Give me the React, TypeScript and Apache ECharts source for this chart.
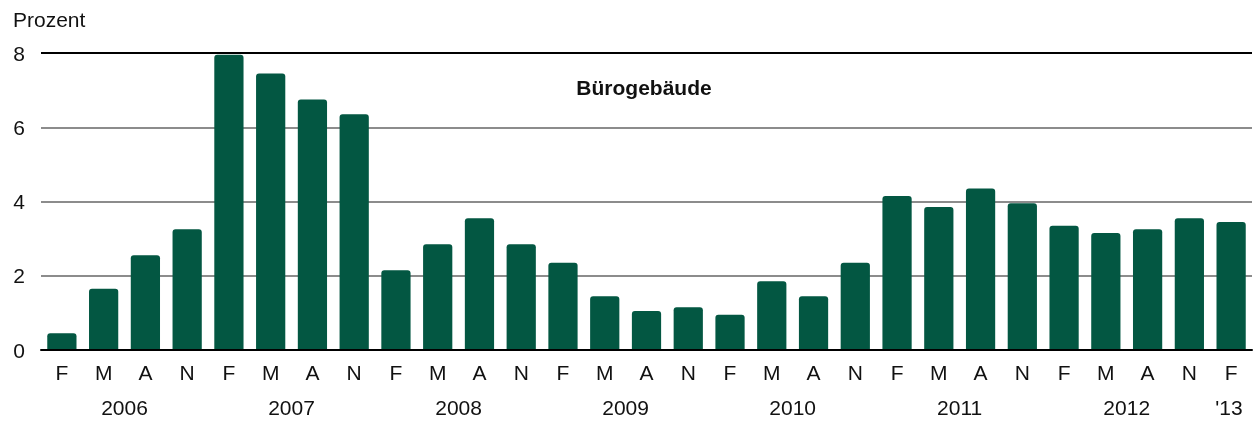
import React, { useEffect, useRef } from "react";
import * as echarts from "echarts";

const months: string[] = [
  "F", "M", "A", "N", "F", "M", "A", "N", "F", "M", "A", "N", "F", "M", "A", "N",
  "F", "M", "A", "N", "F", "M", "A", "N", "F", "M", "A", "N", "F",
];
const values: number[] = [
  0.45, 1.65, 2.55, 3.25, 7.95, 7.45, 6.75, 6.35, 2.15, 2.85, 3.55, 2.85, 2.35, 1.45, 1.05, 1.15,
  0.95, 1.85, 1.45, 2.35, 4.15, 3.85, 4.35, 3.95, 3.35, 3.15, 3.25, 3.55, 3.45,
];
const yearLabels: string[] = ["2006", "2007", "2008", "2009", "2010", "2011", "2012", "'13"];
const yearPositions: number[] = [2, 6, 10, 14, 18, 22, 26, 28.45];
const yTicks: number[] = [0, 2, 4, 6, 8];
const title = "Bürogebäude";
const unit = "Prozent";

export default function App() {
  const ref = useRef<HTMLDivElement>(null);
  useEffect(() => {
    if (!ref.current) return;
    const chart = echarts.init(ref.current, undefined, { renderer: "svg" });
    const font = "Liberation Sans, Arial, sans-serif";
    const fs = 21;
    chart.setOption({
      animation: false,
      textStyle: { fontFamily: font },
      graphic: [
        {
          type: "text",
          left: 13,
          top: 9,
          style: { text: unit, fontSize: fs, fill: "#111", fontFamily: font },
        },
        {
          type: "text",
          x: 644,
          y: 87,
          style: {
            text: title,
            fontSize: fs,
            fontWeight: "bold",
            fill: "#111",
            fontFamily: font,
            align: "center",
            verticalAlign: "middle",
          },
        },
      ],
      grid: { left: 41, right: 6, top: 53, bottom: 73, containLabel: false },
      xAxis: [
        {
          type: "category",
          data: months,
          position: "bottom",
          axisLine: { show: true, lineStyle: { color: "#000", width: 2 } },
          axisTick: { show: false },
          axisLabel: { fontSize: fs, color: "#111", margin: 12, fontFamily: font, interval: 0 },
          z: 10,
        },
        {
          type: "value",
          min: 0,
          max: months.length,
          position: "bottom",
          axisLine: { show: false },
          axisTick: { show: false },
          splitLine: { show: false },
          axisLabel: {
            fontSize: fs,
            color: "#111",
            margin: 47,
            fontFamily: font,
            customValues: yearPositions,
            formatter: (v: number) => {
              const i = yearPositions.findIndex((p) => Math.abs(p - v) < 1e-6);
              return i >= 0 ? yearLabels[i] : "";
            },
          },
        },
      ],
      yAxis: {
        type: "value",
        min: yTicks[0],
        max: yTicks[yTicks.length - 1],
        interval: 2,
        axisLine: { show: false },
        axisTick: { show: false },
        axisLabel: { fontSize: fs, color: "#111", margin: 22, fontFamily: font, align: "center" },
        splitLine: {
          show: true,
          lineStyle: { color: ["#000", "#8c8c8c", "#8c8c8c", "#8c8c8c", "#000"], width: 2 },
        },
      },
      series: [
        {
          type: "bar",
          data: values,
          xAxisIndex: 0,
          barCategoryGap: "30%",
          itemStyle: { color: "#035742", borderRadius: [3, 3, 0, 0] },
          z: 2,
        },
      ],
    });
    return () => chart.dispose();
  }, []);
  return (
    <div
      ref={ref}
      style={{ position: "fixed", left: 0, top: 0, width: 1258, height: 423 }}
    />
  );
}
